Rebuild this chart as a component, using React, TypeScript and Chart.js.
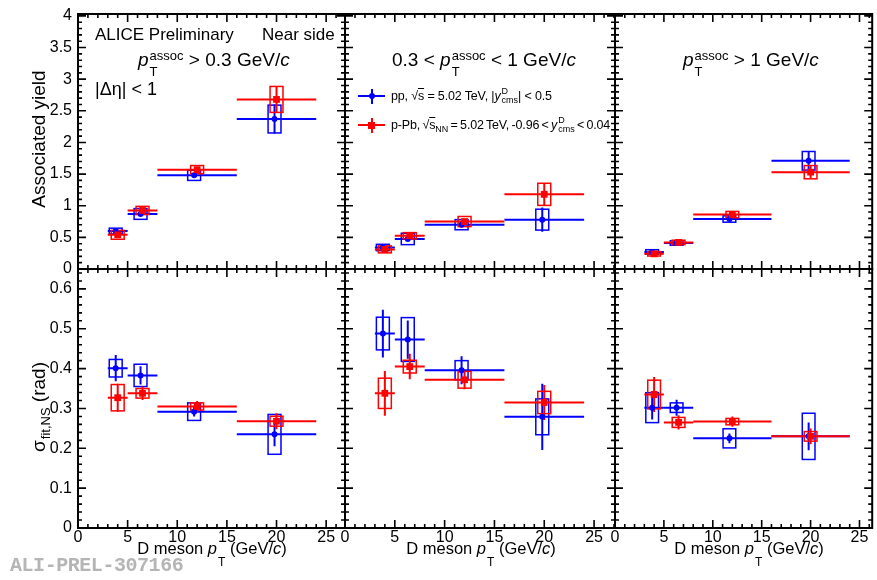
import React, { useEffect, useRef } from "react";
import { Chart, registerables } from "chart.js";

Chart.register(...registerables);

const FONT = '"Liberation Sans", Arial, Helvetica, sans-serif';
const W = 877;
const H = 580;
const BLUE = "#0000ff";
const RED = "#ff0000";

// ---------------- data ----------------
const binLo = [3, 5, 8, 16];
const binHi = [5, 8, 16, 24];
const ppPt = [3.8, 6.3, 11.7, 19.8];
const pPbPt = [4.0, 6.5, 12.0, 20.0];
const sysHalfWidth = 0.65;

const xTickLabels = [0, 5, 10, 15, 20, 25];
const yieldTickLabels = [0, 0.5, 1, 1.5, 2, 2.5, 3, 3.5, 4];
const sigmaTickLabels = [0, 0.1, 0.2, 0.3, 0.4, 0.5, 0.6];

// associated yield, pT assoc > 0.3 GeV/c
const ppYieldA = [0.6, 0.87, 1.48, 2.37];
const ppYieldAStat = [0.015, 0.025, 0.04, 0.23];
const ppYieldASys = [0.045, 0.085, 0.08, 0.22];
const pPbYieldA = [0.54, 0.925, 1.57, 2.68];
const pPbYieldAStat = [0.015, 0.025, 0.04, 0.2];
const pPbYieldASys = [0.07, 0.065, 0.065, 0.205];
// associated yield, 0.3 < pT assoc < 1 GeV/c
const ppYieldB = [0.34, 0.475, 0.7, 0.78];
const ppYieldBStat = [0.015, 0.03, 0.04, 0.19];
const ppYieldBSys = [0.05, 0.09, 0.08, 0.165];
const pPbYieldB = [0.31, 0.525, 0.75, 1.18];
const pPbYieldBStat = [0.015, 0.03, 0.04, 0.18];
const pPbYieldBSys = [0.055, 0.05, 0.08, 0.175];
// associated yield, pT assoc > 1 GeV/c
const ppYieldC = [0.27, 0.41, 0.79, 1.71];
const ppYieldCStat = [0.01, 0.015, 0.03, 0.15];
const ppYieldCSys = [0.035, 0.035, 0.05, 0.147];
const pPbYieldC = [0.24, 0.42, 0.86, 1.53];
const pPbYieldCStat = [0.01, 0.015, 0.03, 0.1];
const pPbYieldCSys = [0.035, 0.035, 0.05, 0.105];

// near-side width, pT assoc > 0.3 GeV/c
const ppSigmaA = [0.401, 0.383, 0.292, 0.235];
const ppSigmaAStat = [0.033, 0.023, 0.012, 0.03];
const ppSigmaASys = [0.022, 0.028, 0.022, 0.05];
const pPbSigmaA = [0.327, 0.338, 0.305, 0.268];
const pPbSigmaAStat = [0.035, 0.017, 0.014, 0.02];
const pPbSigmaASys = [0.033, 0.012, 0.009, 0.0125];
// near-side width, 0.3 < pT assoc < 1 GeV/c
const ppSigmaB = [0.488, 0.473, 0.396, 0.279];
const ppSigmaBStat = [0.06, 0.048, 0.035, 0.083];
const ppSigmaBSys = [0.041, 0.055, 0.024, 0.045];
const pPbSigmaB = [0.338, 0.405, 0.372, 0.315];
const pPbSigmaBStat = [0.056, 0.032, 0.024, 0.044];
const pPbSigmaBSys = [0.038, 0.016, 0.021, 0.028];
// near-side width, pT assoc > 1 GeV/c
const ppSigmaC = [0.302, 0.302, 0.225, 0.23];
const ppSigmaCStat = [0.03, 0.02, 0.012, 0.035];
const ppSigmaCSys = [0.0375, 0.012, 0.024, 0.058];
const pPbSigmaC = [0.335, 0.265, 0.267, 0.23];
const pPbSigmaCStat = [0.044, 0.018, 0.013, 0.02];
const pPbSigmaCSys = [0.036, 0.0125, 0.008, 0.012];

// ---------------- layout ----------------
type Series = { y: number[]; stat: number[]; sys: number[] };
type PanelSpec = {
  l: number; r: number; t: number; b: number;
  xMax: number; yMax: number;
  yTicks: number[]; yMinor: number; yMajor: number;
  showX: boolean; showY: boolean;
  pp: Series; pPb: Series;
};

const COLS = [
  { l: 78, r: 345, xMax: 26.9 },
  { l: 345, r: 615, xMax: 27.1 },
  { l: 615, r: 875, xMax: 26.3 },
];
const TOP = { t: 14, b: 269, yMax: 4.03, yTicks: yieldTickLabels, yMinor: 0.1, yMajor: 0.5 };
const BOT = { t: 269, b: 528, yMax: 0.65, yTicks: sigmaTickLabels, yMinor: 0.02, yMajor: 0.1 };

const panels: PanelSpec[] = [
  { ...COLS[0], ...TOP, showX: false, showY: true,
    pp: { y: ppYieldA, stat: ppYieldAStat, sys: ppYieldASys },
    pPb: { y: pPbYieldA, stat: pPbYieldAStat, sys: pPbYieldASys } },
  { ...COLS[1], ...TOP, showX: false, showY: false,
    pp: { y: ppYieldB, stat: ppYieldBStat, sys: ppYieldBSys },
    pPb: { y: pPbYieldB, stat: pPbYieldBStat, sys: pPbYieldBSys } },
  { ...COLS[2], ...TOP, showX: false, showY: false,
    pp: { y: ppYieldC, stat: ppYieldCStat, sys: ppYieldCSys },
    pPb: { y: pPbYieldC, stat: pPbYieldCStat, sys: pPbYieldCSys } },
  { ...COLS[0], ...BOT, showX: true, showY: true,
    pp: { y: ppSigmaA, stat: ppSigmaAStat, sys: ppSigmaASys },
    pPb: { y: pPbSigmaA, stat: pPbSigmaAStat, sys: pPbSigmaASys } },
  { ...COLS[1], ...BOT, showX: true, showY: false,
    pp: { y: ppSigmaB, stat: ppSigmaBStat, sys: ppSigmaBSys },
    pPb: { y: pPbSigmaB, stat: pPbSigmaBStat, sys: pPbSigmaBSys } },
  { ...COLS[2], ...BOT, showX: true, showY: false,
    pp: { y: ppSigmaC, stat: ppSigmaCStat, sys: ppSigmaCSys },
    pPb: { y: pPbSigmaC, stat: pPbSigmaCStat, sys: pPbSigmaCSys } },
];

const fmt = (v: any) => String(Math.round(Number(v) * 1000) / 1000);
const Y_AXIS_W = 70;
const X_AXIS_H = 30;

// ---------------- plugin: ROOT-like errors, frame and ticks ----------------
const rootPlugin = {
  id: "rootFrame",
  beforeDatasetsDraw(chart: any) {
    const ctx = chart.ctx;
    const xs = chart.scales.x;
    const ys = chart.scales.y;
    ctx.save();
    const dsList = [...chart.data.datasets].sort((a: any, b: any) => b.order - a.order);
    dsList.forEach((ds: any) => {
      ctx.strokeStyle = ds.borderColor;
      ds.data.forEach((p: any, i: number) => {
        const px = xs.getPixelForValue(p.x);
        const py = ys.getPixelForValue(p.y);
        // systematic box
        const bx0 = xs.getPixelForValue(p.x - sysHalfWidth);
        const bx1 = xs.getPixelForValue(p.x + sysHalfWidth);
        const by0 = ys.getPixelForValue(p.y + ds.sys[i]);
        const by1 = ys.getPixelForValue(p.y - ds.sys[i]);
        ctx.lineWidth = 1.5;
        ctx.strokeRect(bx0, by0, bx1 - bx0, by1 - by0);
        // x error (bin width) and statistical error
        ctx.lineWidth = 2;
        ctx.beginPath();
        ctx.moveTo(xs.getPixelForValue(ds.xLo[i]), py);
        ctx.lineTo(xs.getPixelForValue(ds.xHi[i]), py);
        ctx.moveTo(px, ys.getPixelForValue(p.y + ds.stat[i]));
        ctx.lineTo(px, ys.getPixelForValue(p.y - ds.stat[i]));
        ctx.stroke();
      });
    });
    ctx.restore();
  },
  afterDraw(chart: any, _args: any, opts: any) {
    const ctx = chart.ctx;
    const a = chart.chartArea;
    const xs = chart.scales.x;
    const ys = chart.scales.y;
    ctx.save();
    ctx.strokeStyle = "#000";
    ctx.lineWidth = 2;
    ctx.strokeRect(a.left, a.top, a.right - a.left, a.bottom - a.top);
    ctx.lineWidth = 1.6;
    ctx.beginPath();
    for (let k = 0; ; k++) {
      const v = k * opts.xMinor;
      if (v > xs.max + 1e-9) break;
      const major = Math.abs(v / opts.xMajor - Math.round(v / opts.xMajor)) < 1e-6;
      const len = major ? 8 : 4;
      const px = xs.getPixelForValue(v);
      ctx.moveTo(px, a.bottom);
      ctx.lineTo(px, a.bottom - len);
      ctx.moveTo(px, a.top);
      ctx.lineTo(px, a.top + len);
    }
    for (let k = 0; ; k++) {
      const v = k * opts.yMinor;
      if (v > ys.max + 1e-9) break;
      const major = Math.abs(v / opts.yMajor - Math.round(v / opts.yMajor)) < 1e-6;
      const len = major ? 8 : 4;
      const py = ys.getPixelForValue(v);
      ctx.moveTo(a.left, py);
      ctx.lineTo(a.left + len, py);
      ctx.moveTo(a.right, py);
      ctx.lineTo(a.right - len, py);
    }
    ctx.stroke();
    ctx.restore();
  },
};

function PanelChart({ spec }: { spec: PanelSpec }) {
  const ref = useRef<HTMLCanvasElement>(null);
  useEffect(() => {
    const s = spec;
    const yw = s.showY ? Y_AXIS_W : 0;
    const xh = s.showX ? X_AXIS_H : 0;
    const chart = new Chart(ref.current as HTMLCanvasElement, {
      type: "scatter",
      data: {
        datasets: [
          {
            label: "pp",
            data: ppPt.map((x, i) => ({ x, y: s.pp.y[i] })),
            xLo: binLo, xHi: binHi, stat: s.pp.stat, sys: s.pp.sys,
            pointStyle: "circle", pointRadius: 3, backgroundColor: BLUE,
            borderColor: BLUE, borderWidth: 0, order: 2,
          } as any,
          {
            label: "p-Pb",
            data: pPbPt.map((x, i) => ({ x, y: s.pPb.y[i] })),
            xLo: binLo, xHi: binHi, stat: s.pPb.stat, sys: s.pPb.sys,
            pointStyle: "rect", pointRadius: 4.8, backgroundColor: RED,
            borderColor: RED, borderWidth: 0, order: 1,
          } as any,
        ],
      },
      options: {
        animation: false,
        responsive: false,
        devicePixelRatio: 1,
        events: [],
        layout: { padding: { left: s.l - yw, right: W - s.r, top: s.t, bottom: H - s.b - xh } },
        plugins: {
          legend: { display: false },
          tooltip: { enabled: false },
          rootFrame: { xMinor: 1, xMajor: 5, yMinor: s.yMinor, yMajor: s.yMajor },
        } as any,
        scales: {
          x: {
            type: "linear", min: 0, max: s.xMax,
            grid: { display: false, drawTicks: false },
            border: { display: false },
            afterBuildTicks: (sc: any) => { sc.ticks = xTickLabels.map((v) => ({ value: v })); },
            afterFit: (sc: any) => {
              sc.height = xh; sc.paddingLeft = 0; sc.paddingRight = 0; sc.paddingTop = 0; sc.paddingBottom = 0;
            },
            ticks: {
              display: s.showX, padding: 0, color: "#000", maxRotation: 0, autoSkip: false,
              font: { family: FONT, size: 16 }, callback: fmt,
            },
          },
          y: {
            type: "linear", min: 0, max: s.yMax,
            grid: { display: false, drawTicks: false },
            border: { display: false },
            afterBuildTicks: (sc: any) => { sc.ticks = s.yTicks.map((v) => ({ value: v })); },
            afterFit: (sc: any) => {
              sc.width = yw; sc.paddingLeft = 0; sc.paddingRight = 0; sc.paddingTop = 0; sc.paddingBottom = 0;
            },
            ticks: {
              display: s.showY, padding: 6, color: "#000", autoSkip: false,
              font: { family: FONT, size: 16 }, callback: fmt,
            },
          },
        },
      },
      plugins: [rootPlugin as any],
    });
    return () => chart.destroy();
  }, [spec]);
  return (
    <canvas
      ref={ref}
      width={W}
      height={H}
      style={{ position: "absolute", left: 0, top: 0, width: W, height: H }}
    />
  );
}

// ---------------- text helpers ----------------
function Txt({ left, base, size, center, children, style }: any) {
  return (
    <div
      style={{
        position: "absolute", left, top: base - 0.8465 * size, fontSize: size,
        lineHeight: `${size}px`, whiteSpace: "nowrap", fontFamily: FONT, color: "#000",
        transform: center ? "translateX(-50%)" : undefined, ...style,
      }}
    >
      {children}
    </div>
  );
}

function Stack({ sup, sub, size, up, down, ml }: any) {
  return (
    <span style={{ display: "inline-block", lineHeight: 0, fontSize: size, marginLeft: ml || 0, fontStyle: "normal", letterSpacing: 0, wordSpacing: 0 }}>
      <span style={{ display: "block", position: "relative", top: -up }}>{sup || "\u00a0"}</span>
      <span style={{ display: "block", position: "relative", top: down }}>{sub || "\u00a0"}</span>
    </span>
  );
}

function PTassoc() {
  return (
    <>
      <i>p</i>
      <Stack sup="assoc" sub="T" size={13} up={6} down={10} ml={1} />
    </>
  );
}

function VTitle({ cx, cy, size, children }: any) {
  return (
    <div
      style={{
        position: "absolute", left: cx, top: cy, fontSize: size, lineHeight: `${size}px`,
        fontFamily: FONT, whiteSpace: "nowrap", color: "#000",
        transform: "translate(-50%, -50%) rotate(-90deg)",
      }}
    >
      {children}
    </div>
  );
}

function LegendMark({ cx, cy, color, square }: any) {
  const r = square ? 3.5 : 3;
  return (
    <>
      <div style={{ position: "absolute", left: cx - 13.5, top: cy - 1, width: 27, height: 2, background: color }} />
      <div style={{ position: "absolute", left: cx - 1, top: cy - 7.5, width: 2, height: 15, background: color }} />
      <div style={{ position: "absolute", left: cx - r, top: cy - r, width: 2 * r, height: 2 * r, background: color, borderRadius: square ? 0 : "50%" }} />
    </>
  );
}

function XTitle({ cx }: { cx: number }) {
  return (
    <Txt left={cx} base={554} size={16.5} center>
      D meson <i>p</i>
      <Stack sub="T" size={12} up={0} down={12} ml={1} /> (GeV/<i>c</i>)
    </Txt>
  );
}

export default function App() {
  useEffect(() => {
    document.body.style.margin = "0";
  }, []);
  return (
    <div style={{ position: "absolute", left: 0, top: 0, width: W, height: H, background: "#fff", overflow: "hidden", fontFamily: FONT }}>
      {panels.map((p, i) => (
        <PanelChart key={i} spec={p} />
      ))}

      <Txt left={95} base={40} size={17}>ALICE Preliminary</Txt>
      <Txt left={262} base={40} size={17}>Near side</Txt>
      <Txt left={138} base={66} size={19}>
        <PTassoc /> &gt; 0.3 GeV/<i>c</i>
      </Txt>
      <Txt left={95} base={95} size={18}>|Δη| &lt; 1</Txt>

      <Txt left={392} base={66} size={19}>
        0.3 &lt; <PTassoc /> &lt; 1 GeV/<i>c</i>
      </Txt>
      <Txt left={683} base={66} size={19}>
        <PTassoc /> &gt; 1 GeV/<i>c</i>
      </Txt>

      <LegendMark cx={371.5} cy={96} color={BLUE} />
      <LegendMark cx={371.5} cy={125} color={RED} square />
      <Txt left={391} base={100.5} size={12.5} style={{ letterSpacing: "-0.15px" }}>
        pp, √<span style={{ textDecoration: "overline" }}>s</span> = 5.02 TeV, |<i>y</i>
        <Stack sup="D" sub="cms" size={9} up={6} down={3} ml={1} />| &lt; 0.5
      </Txt>
      <Txt left={391} base={129.5} size={12.5} style={{ letterSpacing: "-0.15px", wordSpacing: "-1px" }}>
        p-Pb, √<span style={{ textDecoration: "overline" }}>s<Stack sub="NN" size={9} up={0} down={3} /></span> = 5.02 TeV, -0.96 &lt; <i>y</i>
        <Stack sup="D" sub="cms" size={9} up={6} down={3} ml={1} /> &lt; 0.04
      </Txt>

      <VTitle cx={38} cy={139} size={19}>Associated yield</VTitle>
      <VTitle cx={38} cy={407} size={19}>
        σ<Stack sub="fit,NS" size={13} up={0} down={5} ml={1} /> (rad)
      </VTitle>

      <XTitle cx={212} />
      <XTitle cx={481} />
      <XTitle cx={749} />

      <div
        style={{
          position: "absolute", left: 10, top: 556, fontSize: 20, lineHeight: "20px",
          fontFamily: '"Liberation Mono", "DejaVu Sans Mono", monospace', fontWeight: "bold",
          color: "#b5b5b5", letterSpacing: "-0.45px", whiteSpace: "nowrap",
        }}
      >
        ALI-PREL-307166
      </div>
    </div>
  );
}
